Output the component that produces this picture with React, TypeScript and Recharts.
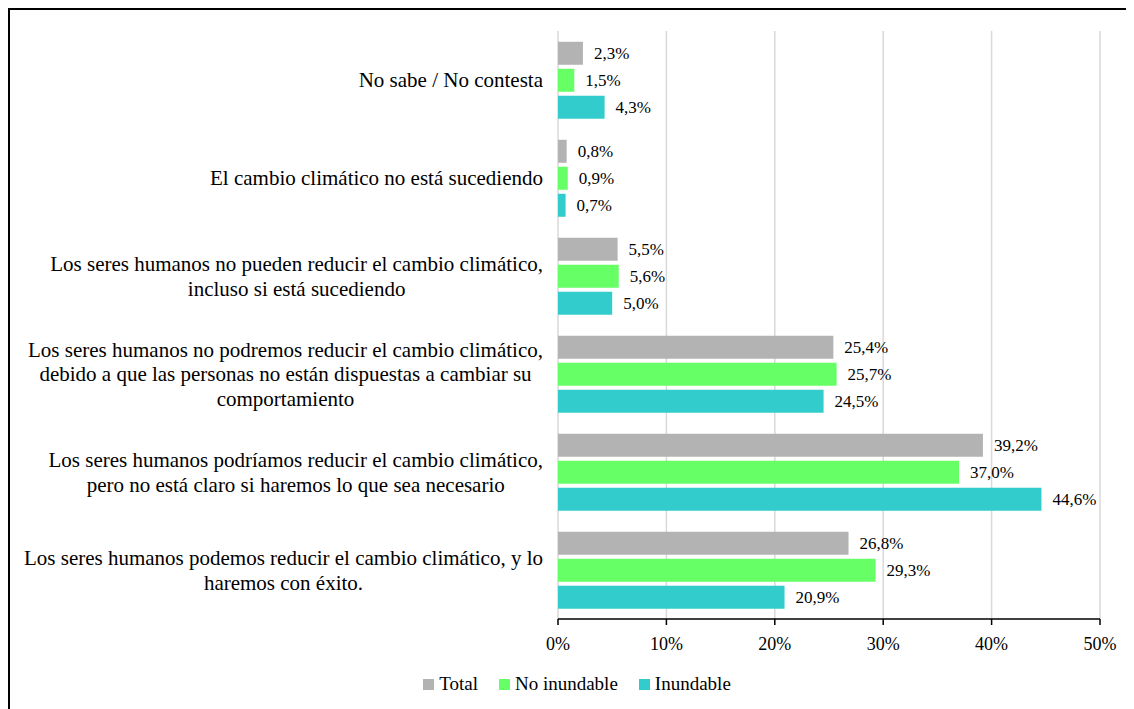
import React from "react";
import {
  BarChart,
  Bar,
  XAxis,
  YAxis,
  CartesianGrid,
  Legend,
  LabelList,
} from "recharts";

// Survey answers, top to bottom; "\n" marks where a label wraps.
const categories: string[] = [
  "No sabe / No contesta",
  "El cambio climático no está sucediendo",
  "Los seres humanos no pueden reducir el cambio climático,\nincluso si está sucediendo",
  "Los seres humanos no podremos reducir el cambio climático,\ndebido a que las personas no están dispuestas a cambiar su\ncomportamiento",
  "Los seres humanos podríamos reducir el cambio climático,\npero no está claro si haremos lo que sea necesario",
  "Los seres humanos podemos reducir el cambio climático, y lo\nharemos con éxito.",
];

// Percentages per group
const totalValues: number[] = [2.3, 0.8, 5.5, 25.4, 39.2, 26.8];
const noInundableValues: number[] = [1.5, 0.9, 5.6, 25.7, 37.0, 29.3];
const inundableValues: number[] = [4.3, 0.7, 5.0, 24.5, 44.6, 20.9];

const xTicks: number[] = [0, 10, 20, 30, 40, 50];
const bandEdges: number[] = [0, 1, 2, 3, 4, 5, 6];

const seriesNames = ["Total", "No inundable", "Inundable"];
const seriesColors = ["#b3b3b3", "#66ff66", "#33cccc"];

const data = categories.map((category, i) => ({
  category,
  total: totalValues[i],
  noInundable: noInundableValues[i],
  inundable: inundableValues[i],
}));

const FONT = '"Liberation Serif", "Times New Roman", serif';
const CAT_SIZE = 21;
const LINE_HEIGHT = 24.5;

let measureCtx: CanvasRenderingContext2D | null = null;
function textWidth(s: string, size: number): number {
  if (!measureCtx) {
    measureCtx = document.createElement("canvas").getContext("2d");
  }
  if (!measureCtx) return s.length * size * 0.45;
  measureCtx.font = `${size}px "Liberation Serif"`;
  return measureCtx.measureText(s).width;
}

// Multi-line category label, lines centred on each other and the block
// right-aligned against the axis.
function CategoryTick(props: any) {
  const { x, y, payload } = props;
  const lines = String(payload.value).split("\n");
  const maxW = Math.max(...lines.map((l) => textWidth(l, CAT_SIZE)));
  const cx = x - maxW / 2;
  return (
    <text
      x={cx}
      y={y}
      textAnchor="middle"
      fontFamily={FONT}
      fontSize={CAT_SIZE}
      fill="#000"
    >
      {lines.map((l, i) => (
        <tspan
          key={i}
          x={cx}
          y={y + (i - (lines.length - 1) / 2) * LINE_HEIGHT}
          dy="0.35em"
        >
          {l}
        </tspan>
      ))}
    </text>
  );
}

const fmt = (v: any) => `${Number(v).toFixed(1).replace(".", ",")}%`;

function LegendContent() {
  return (
    <div
      style={{
        height: 50,
        display: "flex",
        justifyContent: "center",
        alignItems: "center",
        paddingLeft: 10,
        fontFamily: FONT,
        fontSize: 19,
        color: "#000",
      }}
    >
      {seriesNames.map((name, i) => (
        <div
          key={name}
          style={{
            display: "flex",
            alignItems: "center",
            marginRight: i < seriesNames.length - 1 ? 21 : 0,
          }}
        >
          <span
            style={{
              width: 11,
              height: 11,
              background: seriesColors[i],
              display: "inline-block",
              marginRight: 5,
            }}
          />
          <span>{name}</span>
        </div>
      ))}
    </div>
  );
}

const labelStyle = { fontFamily: FONT, fontSize: 17, fill: "#000" };

export default function App() {
  return (
    <div
      style={{
        width: 1124,
        height: 699,
        borderTop: "2px solid #000",
        borderLeft: "2px solid #000",
        background: "#fff",
      }}
    >
      <BarChart
        width={1124}
        height={699}
        data={data}
        layout="vertical"
        margin={{ top: 21, right: 34, left: 0, bottom: 0 }}
        barCategoryGap="11%"
        barGap={4}
      >
        <CartesianGrid horizontal={false} stroke="#d9d9d9" strokeWidth={1.5} />
        <XAxis
          type="number"
          domain={[0, 50]}
          ticks={xTicks}
          tickFormatter={(v: number) => `${v}%`}
          axisLine={{ stroke: "#000", strokeWidth: 1.5 }}
          tickLine={{ stroke: "#000", strokeWidth: 1.5 }}
          tickSize={6}
          tickMargin={12}
          height={40}
          tick={{ fontFamily: FONT, fontSize: 18, fill: "#000" }}
        />
        <YAxis
          yAxisId="frame"
          type="number"
          domain={[0, 6]}
          ticks={bandEdges}
          width={0}
          tickSize={6}
          axisLine={{ stroke: "#000", strokeWidth: 1.5 }}
          tickLine={{ stroke: "#000", strokeWidth: 1.5 }}
          tick={() => <g />}
        />
        <YAxis
          yAxisId="cat"
          type="category"
          dataKey="category"
          width={548}
          axisLine={false}
          tickLine={false}
          tickSize={0}
          tickMargin={15}
          interval={0}
          tick={<CategoryTick />}
        />
        <Legend
          verticalAlign="bottom"
          height={50}
          content={<LegendContent />}
          wrapperStyle={{ left: 0, width: 1124 }}
        />
        <Bar
          yAxisId="cat"
          dataKey="total"
          name={seriesNames[0]}
          fill={seriesColors[0]}
          isAnimationActive={false}
        >
          <LabelList dataKey="total" position="right" offset={11} formatter={fmt} style={labelStyle} />
        </Bar>
        <Bar
          yAxisId="cat"
          dataKey="noInundable"
          name={seriesNames[1]}
          fill={seriesColors[1]}
          isAnimationActive={false}
        >
          <LabelList dataKey="noInundable" position="right" offset={11} formatter={fmt} style={labelStyle} />
        </Bar>
        <Bar
          yAxisId="cat"
          dataKey="inundable"
          name={seriesNames[2]}
          fill={seriesColors[2]}
          isAnimationActive={false}
        >
          <LabelList dataKey="inundable" position="right" offset={11} formatter={fmt} style={labelStyle} />
        </Bar>
      </BarChart>
    </div>
  );
}
